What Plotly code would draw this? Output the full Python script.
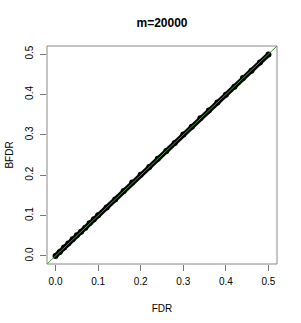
import plotly.graph_objects as go

fdr = [0.0, 0.01, 0.02, 0.03, 0.04, 0.05, 0.06, 0.07, 0.08, 0.09, 0.10, 0.12, 0.14, 0.16,
       0.18, 0.20, 0.22, 0.24, 0.26, 0.28, 0.30, 0.32, 0.34, 0.36, 0.38, 0.40, 0.42,
       0.44, 0.46, 0.48, 0.50]
bfdr = [0.0, 0.010, 0.021, 0.031, 0.041, 0.051, 0.060, 0.070, 0.081, 0.091, 0.101, 0.120,
        0.140, 0.161, 0.182, 0.201, 0.220, 0.241, 0.260, 0.280, 0.301, 0.320, 0.341,
        0.360, 0.380, 0.399, 0.419, 0.441, 0.459, 0.479, 0.499]
axis_range = [-0.02, 0.52]
ticks = [0.0, 0.1, 0.2, 0.3, 0.4, 0.5]
tick_text = ["0.0", "0.1", "0.2", "0.3", "0.4", "0.5"]

fig = go.Figure()
fig.add_trace(go.Scatter(x=fdr, y=bfdr, mode="lines+markers",
                         line=dict(color="black", width=5),
                         marker=dict(color="black", size=6),
                         showlegend=False))
fig.add_trace(go.Scatter(x=axis_range, y=axis_range, mode="lines",
                         line=dict(color="#3c9a3c", width=1), showlegend=False))

font = "Liberation Sans, Arial, sans-serif"
fig.update_layout(
    width=301, height=323,
    margin=dict(l=47, r=24, t=46, b=59, autoexpand=False),
    paper_bgcolor="white", plot_bgcolor="white",
    title=dict(text="<b>m=20000</b>", x=162/301, xanchor="center", y=1 - 23/323, yanchor="middle",
               font=dict(family=font, size=12, color="black")),
    xaxis=dict(range=axis_range, tickvals=ticks, ticktext=tick_text, showgrid=False, zeroline=False,
               ticks="outside", ticklen=6, tickcolor="#777", showline=False, automargin=False,
               ticklabelstandoff=2,
               tickfont=dict(family=font, size=10, color="black"),
               title=dict(text="FDR", font=dict(family=font, size=10, color="black"), standoff=18)),
    yaxis=dict(range=axis_range, tickvals=ticks, ticktext=tick_text, showgrid=False, zeroline=False,
               ticks="outside", ticklen=6, tickcolor="#777", showline=False, tickangle=-90,
               automargin=False, ticklabelstandoff=3,
               tickfont=dict(family=font, size=10, color="black"),
               title=dict(text="BFDR", font=dict(family=font, size=10, color="black"), standoff=8)),
    shapes=[dict(type="rect", xref="paper", yref="paper", x0=0, x1=1, y0=0, y1=1,
                 line=dict(color="#888", width=1))],
)
fig.write_html("out.html", config={"displayModeBar": False},
               post_script="document.body.style.margin='0px';")
